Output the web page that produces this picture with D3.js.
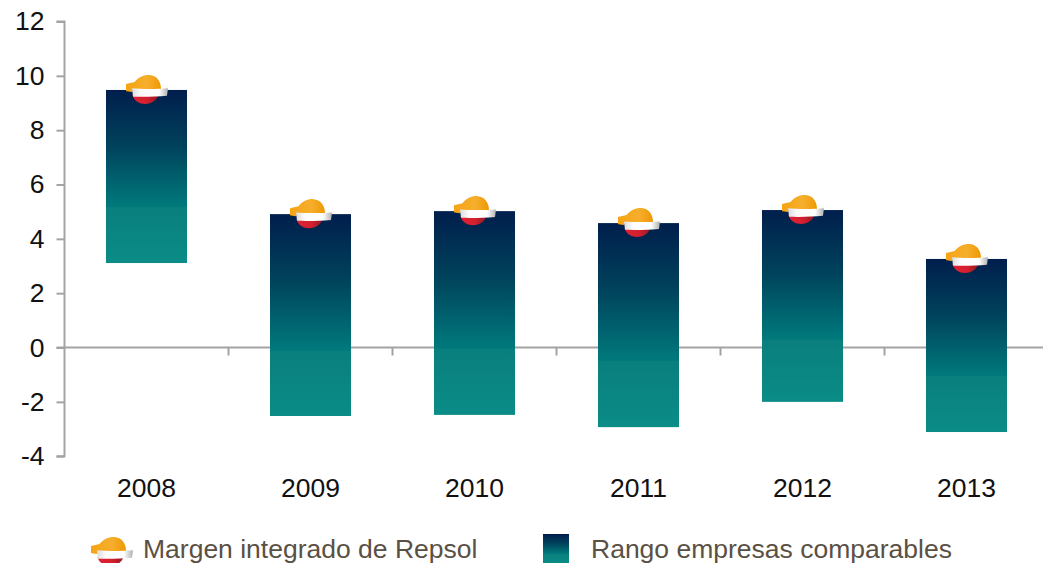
<!DOCTYPE html>
<html><head><meta charset="utf-8">
<script src="https://cdnjs.cloudflare.com/ajax/libs/d3/7.8.5/d3.min.js"></script>
<style>html,body{margin:0;padding:0;background:#fff;overflow:hidden}svg{display:block}
text{font-family:"Liberation Sans",Arial,sans-serif}</style></head><body>
<svg id="c" width="1043" height="563"></svg>
<script>
const years = ["2008","2009","2010","2011","2012","2013"];
const rangoMax = [9.48,4.91,5.02,4.58,5.06,3.26];
const rangoMin = [3.11,-2.52,-2.48,-2.93,-2.0,-3.11];
const margen = [9.48,4.91,5.02,4.58,5.06,3.26];
const yTicks = [12,10,8,6,4,2,0,-2,-4];
const legendLabels = ["Margen integrado de Repsol","Rango empresas comparables"];

const svg = d3.select("#c");
const y = d3.scaleLinear().domain([-4,12]).range([456.2,21.5]);
const x = d3.scaleBand().domain(years).range([64.5,1048.5]).paddingInner(0.506).paddingOuter(0.253);
const defs = svg.append("defs");
function grad(id,stops,horizontal){
  const g = defs.append("linearGradient").attr("id",id).attr("x1",0).attr("y1",0)
    .attr("x2",horizontal?1:0).attr("y2",horizontal?0:1);
  stops.forEach(s=>g.append("stop").attr("offset",s[0]).attr("stop-color",s[1]));
}
grad("bar",[[0,"#001e4c"],[0.33,"#00435c"],[0.676,"#007a7c"],[0.676,"#0a7f7d"],[1,"#0a8c87"]]);
grad("cap",[[0,"#f5a414"],[0.6,"#f6ae2c"],[1,"#ef9803"]],true);
grad("band",[[0,"#dcdcdc"],[0.25,"#fdfdfd"],[0.75,"#ffffff"],[1,"#b0b0b0"]],true);
grad("red",[[0,"#e02133"],[0.55,"#d5202f"],[1,"#8f1b23"]],true);

const logo = defs.append("g").attr("id","logo");
logo.append("path").attr("fill","url(#red)").attr("d","M-14,5 L12,5 C10,11 4,14 -1.5,14 C-7,14 -12.5,11 -14,5 Z");
logo.append("path").attr("fill","url(#cap)").attr("d","M-20.5,-6 L-12,-8 C-8,-13 -2,-15.5 3,-15 C10,-14.5 14.5,-9 14.5,-1 L-13,0 L-14.5,2 C-17,1.5 -20,1.5 -20.5,1 Z");
logo.append("path").attr("fill","url(#band)").attr("d","M-14.5,-1.7 C-5,-0.8 10,-0.8 21.5,-1.7 L20.5,5.8 C10,6.8 -3,7 -13.5,6.7 Z");

const axisColor = "#a3a3a3";
function styleAxis(g){
  g.selectAll("path,line").attr("stroke",axisColor).attr("stroke-width",2);
  g.selectAll("text").attr("fill","#111").style("font-family",'"Liberation Sans",Arial,sans-serif').style("font-size","26.5px");
}
const yAxis = d3.axisLeft(y).tickValues(yTicks).tickFormat(d=>String(d)).tickSize(8).tickPadding(12);
svg.append("g").attr("transform","translate(64.5,0)").call(yAxis).call(styleAxis)
  .call(g=>g.select(".domain").attr("d",`M-8,${y(12)}H0V${y(-4)}H-8`));

const xTickPos = years.slice(1).map(d=>x(d)-x.step()*x.paddingInner()/2);
const zero = svg.append("g").attr("transform",`translate(0,${y(0)})`);
zero.append("line").attr("x1",56.5).attr("x2",1043).attr("stroke",axisColor).attr("stroke-width",2);
zero.selectAll("line.t").data(xTickPos).join("line").attr("class","t")
  .attr("x1",d=>d).attr("x2",d=>d).attr("y1",0).attr("y2",8).attr("stroke",axisColor).attr("stroke-width",2);

svg.append("g").selectAll("text").data(years).join("text")
  .attr("x",d=>x(d)+x.bandwidth()/2).attr("y",497).attr("text-anchor","middle")
  .attr("fill","#111").style("font-size","26.5px").text(d=>d);

svg.append("g").selectAll("rect").data(years).join("rect")
  .attr("x",d=>x(d)).attr("width",x.bandwidth())
  .attr("y",(d,i)=>y(rangoMax[i])).attr("height",(d,i)=>y(rangoMin[i])-y(rangoMax[i]))
  .attr("fill","url(#bar)");

svg.append("g").selectAll("use").data(years).join("use").attr("href","#logo")
  .attr("transform",(d,i)=>`translate(${x(d)+x.bandwidth()/2},${y(margen[i])})`);

const legend = svg.append("g");
legend.append("use").attr("href","#logo").attr("transform","translate(111.5,552)");
legend.append("rect").attr("x",543).attr("y",534).attr("width",26).attr("height",29).attr("fill","url(#bar)");
legend.selectAll("text").data(legendLabels).join("text")
  .attr("x",(d,i)=>i?591:143).attr("y",558).attr("fill","#5a5044").style("font-size","26.5px").text(d=>d);
</script></body></html>
